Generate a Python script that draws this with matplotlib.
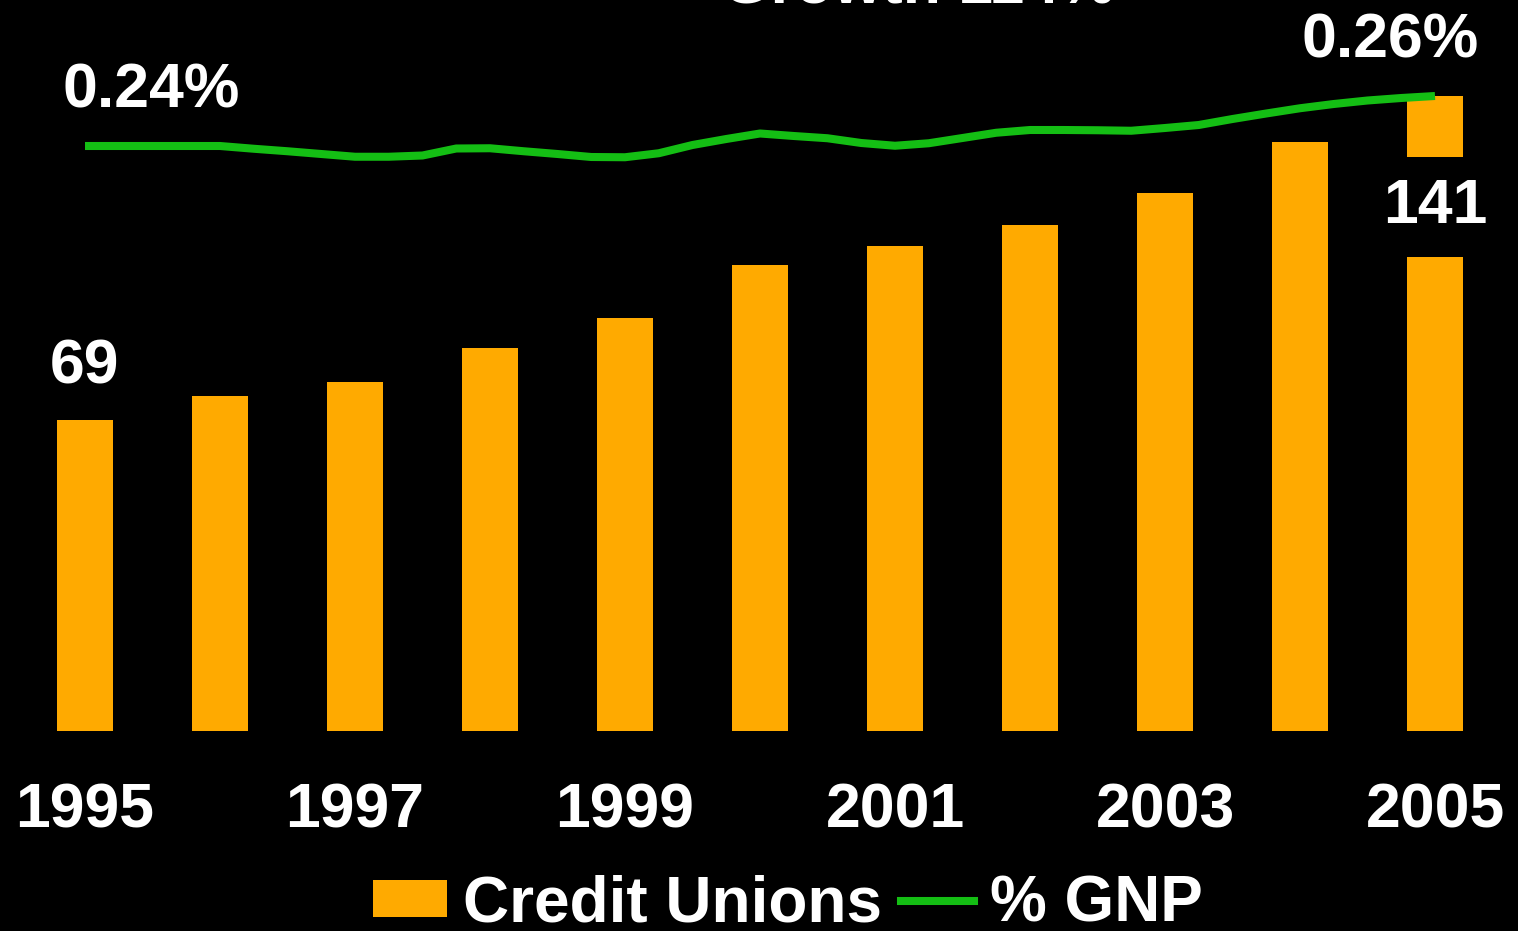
import matplotlib
matplotlib.use("Agg")
import matplotlib.pyplot as plt
from matplotlib.patches import Patch
from matplotlib.lines import Line2D
import numpy as np

plt.rcParams['font.family'] = ['Liberation Sans', 'DejaVu Sans']
plt.rcParams['font.weight'] = 'bold'

# ---- data ----
years = [1995, 1996, 1997, 1998, 1999, 2000, 2001, 2002, 2003, 2004, 2005]
credit_unions = [69, 74.3, 77.4, 85, 91.6, 103.4, 107.6, 112.3, 119.4, 130.7, 141]

# quarterly % of GNP, 1995 Q1 .. 2005 Q1
gnp_quarters = [1995 + i * 0.25 for i in range(41)]
gnp_pct = [0.2400, 0.2400, 0.2400, 0.2400, 0.2400, 0.2389, 0.2379, 0.2368,
           0.2357, 0.2357, 0.2362, 0.2390, 0.2391, 0.2379, 0.2368, 0.2356,
           0.2355, 0.2371, 0.2404, 0.2428, 0.2450, 0.2440, 0.2431, 0.2412,
           0.2401, 0.2411, 0.2432, 0.2453, 0.2464, 0.2464, 0.2463, 0.2461,
           0.2472, 0.2484, 0.2508, 0.2530, 0.2551, 0.2568, 0.2582, 0.2592,
           0.2600]
tick_years = [1995, 1997, 1999, 2001, 2003, 2005]

BAR = '#FFAA00'
GREEN = '#14BE14'
W, H = 1518, 931

fig = plt.figure(figsize=(W / 100, H / 100), dpi=100, facecolor='black')
ax = fig.add_axes([0, (H - 731) / H, 1, 731 / H])
ax.set_facecolor('black')

ax.bar(years, credit_unions, width=0.42, color=BAR, zorder=2)
ax.set_xlim(1995 - 85 / 135, 1995 + (W - 85) / 135)
ax.set_ylim(0, 731 / 4.507)

ax.set_xticks(tick_years)
ax.set_xticklabels([str(y) for y in tick_years])
ax.tick_params(axis='x', length=0, pad=36, labelsize=45, labelcolor='white')
ax.set_yticks([])
for s in ax.spines.values():
    s.set_visible(False)

# % GNP line on its own scale
ax2 = ax.twinx()
ax2.plot(gnp_quarters, gnp_pct, color=GREEN, lw=5.8, solid_capstyle='butt', zorder=3)
ax2.set_ylim(0.24 - 585 * 0.0004, 0.24 + 146 * 0.0004)
ax2.set_yticks([])
for s in ax2.spines.values():
    s.set_visible(False)

# value labels
ax.annotate('69', xy=(years[0], credit_unions[0]), xytext=(0, 26.6),
            textcoords='offset points', ha='center', va='baseline',
            fontsize=45, color='white')
ax.annotate('141', xy=(years[-1], credit_unions[-1]), xytext=(0, -92),
            textcoords='offset points', ha='center', va='baseline',
            fontsize=45, color='white', zorder=5,
            bbox=dict(boxstyle='square,pad=0.33', fc='black', ec='none'))
ax2.annotate(f'{gnp_pct[0]:.2f}%', xy=(gnp_quarters[0], gnp_pct[0]), xytext=(47.5, 27.4),
             textcoords='offset points', ha='center', va='baseline',
             fontsize=45, color='white')
ax2.annotate(f'{gnp_pct[-1]:.2f}%', xy=(gnp_quarters[-1], gnp_pct[-1]), xytext=(-32, 28),
             textcoords='offset points', ha='center', va='baseline',
             fontsize=45, color='white')

# title mostly cut off at the top (as in the source slide)
fig.text(918 / W, 1 - 2.5 / H, 'Growth 114%', ha='center', va='baseline',
         fontsize=45, color='white')

handles = [Patch(facecolor=BAR, edgecolor='none'),
           Line2D([], [], color=GREEN, lw=5.8)]
fig.legend(handles, ['Credit Unions', '% GNP'], loc='center',
           bbox_to_anchor=(788 / W, 1 - 904 / H), ncol=2, frameon=False,
           fontsize=46, labelcolor='white', handlelength=1.15, handleheight=0.5,
           handletextpad=0.25, columnspacing=0.3, borderpad=0, borderaxespad=0)

fig.savefig('out.png', dpi=100, facecolor='black')
